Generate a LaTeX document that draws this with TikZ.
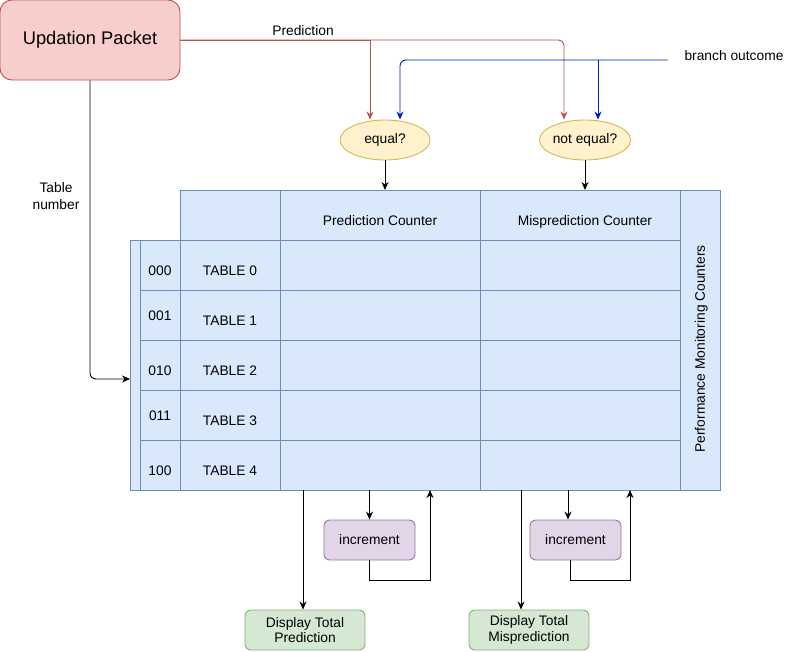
\documentclass[tikz,border=0pt]{standalone}
\usepackage{fontspec}
\setmainfont{Liberation Sans}
\usetikzlibrary{shapes.geometric,arrows.meta,calc}
\definecolor{redfill}{HTML}{F8CECC}
\definecolor{reddraw}{HTML}{B85450}
\definecolor{yelfill}{HTML}{FFF2CC}
\definecolor{yeldraw}{HTML}{D6B656}
\definecolor{bluefill}{HTML}{DAE8FC}
\definecolor{bluedraw}{HTML}{6C8EBF}
\definecolor{purfill}{HTML}{E1D5E7}
\definecolor{purdraw}{HTML}{9673A6}
\definecolor{grnfill}{HTML}{D5E8D4}
\definecolor{grndraw}{HTML}{82B366}
\definecolor{blueline}{HTML}{001DBC}
\begin{document}
\begin{tikzpicture}[x=1pt,y=-1pt,
  font=\fontsize{13.8}{15.7}\selectfont,
  cell/.style={draw=bluedraw, fill=bluefill, inner sep=0pt, outer sep=0pt, line width=0.9pt},
  lbl/.style={inner sep=0pt, text height=9.9pt, text depth=0pt},
  tip/.style={-{Stealth[length=8pt,width=7pt]}},
  arr/.style={tip, line width=0.9pt, black},
  redarr/.style={tip, line width=0.9pt, reddraw},
  bluearr/.style={tip, line width=0.9pt, blueline},
  oval/.style={ellipse, draw=yeldraw, fill=yelfill, line width=0.9pt, minimum width=90pt, minimum height=40pt, inner sep=0pt},
  incbox/.style={draw=purdraw, fill=purfill, rounded corners=6pt, line width=0.9pt, minimum width=91pt, minimum height=40pt, inner sep=0pt},
  dispbox/.style={draw=grndraw, fill=grnfill, rounded corners=6pt, line width=0.9pt, minimum width=120pt, minimum height=40pt, inner sep=0pt, align=center}
]
\useasboundingbox (0,0) rectangle (791,651);

% Updation packet
\node[draw=reddraw, fill=redfill, rounded corners=12pt, line width=0.9pt, minimum width=180pt, minimum height=80pt, inner sep=0pt, font=\fontsize{18.3}{21}\selectfont] (pkt) at (90,40) {Updation Packet};

% comparators
\node[oval] (eq) at (385,140) {equal?};
\node[oval] (neq) at (585,140) {not equal?};

% table header
\node[cell, minimum width=100pt, minimum height=50pt] (hb) at (230,215) {};
\node[cell, minimum width=200pt, minimum height=50pt] (pchdr) at (380,215) {};
\node[cell, minimum width=200pt, minimum height=50pt] (mphdr) at (580,215) {};
\node[cell, minimum width=40pt, minimum height=300pt] (pmc) at (700,340) {};
\node[cell, minimum width=10pt, minimum height=250pt] (leftbar) at (135,365) {};
\node[lbl] (pchdrt) at (380,221) {Prediction Counter};
\node[lbl] (mphdrt) at (585,221) {Misprediction Counter};
\node[lbl, rotate=90] (pmct) at (700,349) {Performance Monitoring Counters};

% table rows
\foreach \i/\c/\d in {0/000/5.7,1/001/1,2/010/5.7,3/011/1,4/100/5.7}{
  \node[cell, minimum width=40pt, minimum height=50pt] (code\i) at (160,265+50*\i) {};
  \node[cell, minimum width=100pt, minimum height=50pt] (tb\i) at (230,265+50*\i) {};
  \node[cell, minimum width=200pt, minimum height=50pt] (pc\i) at (380,265+50*\i) {};
  \node[cell, minimum width=200pt, minimum height=50pt] (mp\i) at (580,265+50*\i) {};
  \node[lbl] (codet\i) at (160,265+50*\i+\d) {\c};
  \node[lbl] (tbt\i) at (230,270.7+50*\i) {TABLE \i};
}

% labels
\node[lbl] (predlbl) at (303,31) {Prediction};
\node[lbl] (bolbl) at (734,56) {branch outcome};
\node[align=center, inner sep=0pt, font=\fontsize{13.8}{17}\selectfont] (tnlbl) at (56,196) {Table\\number};

% prediction lines
\draw[redarr, rounded corners=6pt] (pkt.east) -| ([xshift=-21pt]neq.north);
\draw[redarr] (pkt.east) -| ([xshift=-15pt]eq.north);

% branch outcome lines
\coordinate (bo) at (668,60);
\draw[bluearr, rounded corners=6pt] (bo) -| ([xshift=15pt]eq.north);
\draw[bluearr] ([xshift=13pt]neq.north |- bo) -- ([xshift=13pt]neq.north);

% comparators to table
\draw[arr] (eq.south) -- (eq.south |- pchdr.north);
\draw[arr] (neq.south) -- (neq.south |- mphdr.north);

% table number
\draw[arr, rounded corners=6pt] (pkt.south) |- ($(leftbar.west)+(0,14)$);

% bottom boxes
\node[incbox] (inc1) at (369.5,540) {increment};
\node[incbox] (inc2) at (575.5,540) {increment};
\node[dispbox] (disp1) at (305,630) {Display Total\\Prediction};
\node[dispbox] (disp2) at (529,630) {Display Total\\Misprediction};

\draw[arr] ([xshift=-2pt]disp1.north |- pc4.south) -- ([xshift=-2pt]disp1.north);
\draw[arr] (inc1.north |- pc4.south) -- (inc1.north);
\coordinate (ret1) at (430,490);
\draw[arr] (inc1.south) -- ++(0,20) -| (ret1);

\draw[arr] ([xshift=-8pt]disp2.north |- mp4.south) -- ([xshift=-8pt]disp2.north);
\draw[arr] ([xshift=-7.5pt]inc2.north |- mp4.south) -- ([xshift=-7.5pt]inc2.north);
\coordinate (ret2) at (630,490);
\draw[arr] ([xshift=-5pt]inc2.south) -- ++(0,20) -| (ret2);
\end{tikzpicture}
\end{document}
